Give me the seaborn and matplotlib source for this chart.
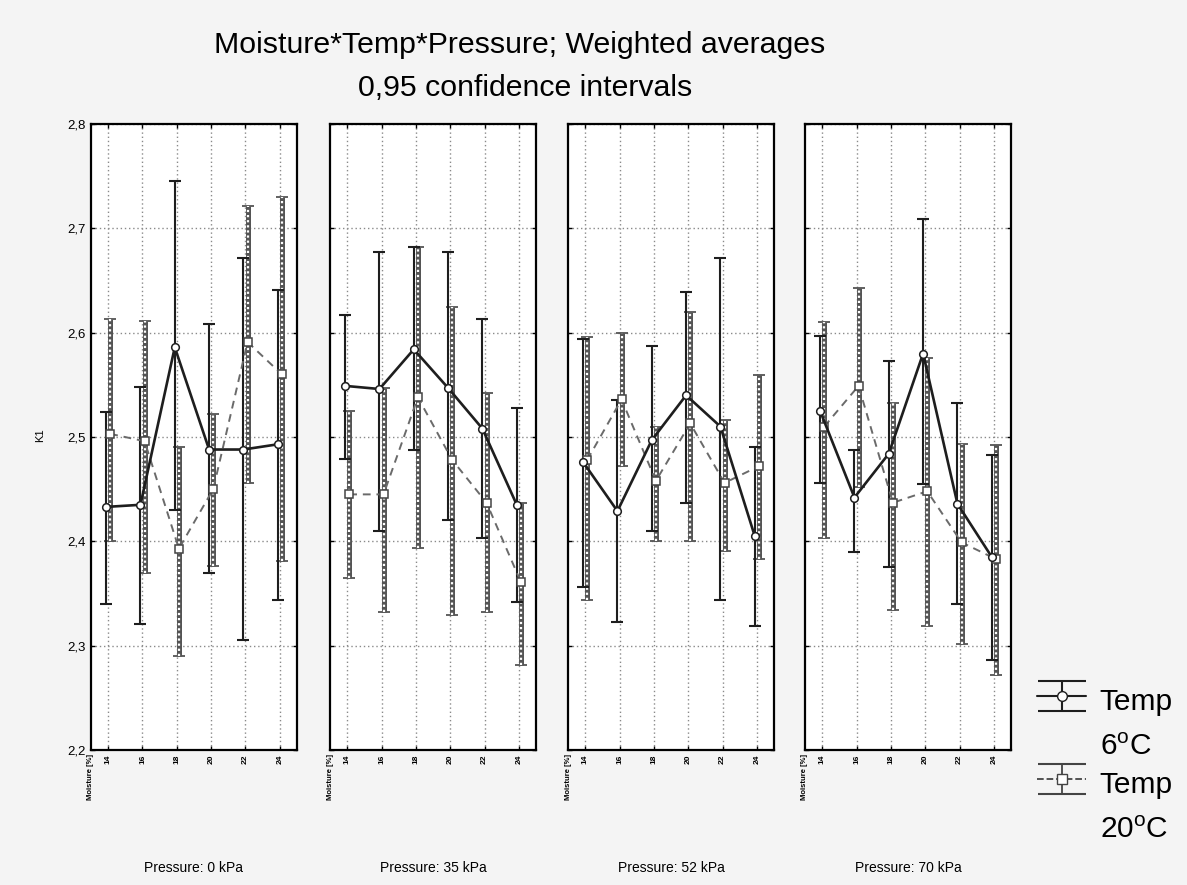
import numpy as np
import pandas as pd
import matplotlib
matplotlib.use("Agg")
import matplotlib.pyplot as plt
import seaborn as sns
from matplotlib.ticker import FixedLocator, FuncFormatter

# ---------------- data ----------------
moisture = [14, 16, 18, 20, 22, 24]
pressures = ["0 kPa", "35 kPa", "52 kPa", "70 kPa"]
y_ticks = [2.2, 2.3, 2.4, 2.5, 2.6, 2.7, 2.8]
temps = ["6$^{o}$C", "20$^{o}$C"]

mean6_p0 = [2.433, 2.435, 2.586, 2.488, 2.488, 2.493]
lo6_p0 = [2.340, 2.321, 2.430, 2.370, 2.305, 2.344]
hi6_p0 = [2.524, 2.548, 2.745, 2.608, 2.672, 2.641]
mean20_p0 = [2.503, 2.496, 2.393, 2.450, 2.591, 2.560]
lo20_p0 = [2.400, 2.370, 2.290, 2.376, 2.456, 2.381]
hi20_p0 = [2.613, 2.611, 2.490, 2.522, 2.721, 2.730]

mean6_p35 = [2.549, 2.546, 2.584, 2.547, 2.508, 2.435]
lo6_p35 = [2.479, 2.410, 2.488, 2.420, 2.403, 2.342]
hi6_p35 = [2.617, 2.677, 2.682, 2.677, 2.613, 2.528]
mean20_p35 = [2.445, 2.445, 2.538, 2.478, 2.437, 2.361]
lo20_p35 = [2.365, 2.332, 2.394, 2.329, 2.332, 2.281]
hi20_p35 = [2.525, 2.547, 2.682, 2.625, 2.542, 2.437]

mean6_p52 = [2.476, 2.429, 2.497, 2.540, 2.510, 2.405]
lo6_p52 = [2.356, 2.323, 2.410, 2.437, 2.344, 2.319]
hi6_p52 = [2.594, 2.535, 2.587, 2.639, 2.672, 2.490]
mean20_p52 = [2.478, 2.536, 2.458, 2.513, 2.456, 2.472]
lo20_p52 = [2.344, 2.472, 2.400, 2.400, 2.391, 2.383]
hi20_p52 = [2.596, 2.600, 2.510, 2.620, 2.516, 2.559]

mean6_p70 = [2.525, 2.442, 2.484, 2.580, 2.436, 2.385]
lo6_p70 = [2.456, 2.390, 2.375, 2.455, 2.340, 2.286]
hi6_p70 = [2.597, 2.488, 2.573, 2.709, 2.533, 2.483]
mean20_p70 = [2.510, 2.549, 2.437, 2.448, 2.399, 2.383]
lo20_p70 = [2.403, 2.452, 2.334, 2.319, 2.302, 2.272]
hi20_p70 = [2.610, 2.643, 2.533, 2.576, 2.493, 2.492]

series6 = [(mean6_p0, lo6_p0, hi6_p0), (mean6_p35, lo6_p35, hi6_p35),
           (mean6_p52, lo6_p52, hi6_p52), (mean6_p70, lo6_p70, hi6_p70)]
series20 = [(mean20_p0, lo20_p0, hi20_p0), (mean20_p35, lo20_p35, hi20_p35),
            (mean20_p52, lo20_p52, hi20_p52), (mean20_p70, lo20_p70, hi20_p70)]

# ---------------- style ----------------
sns.set_theme(style="white")
plt.rcParams['font.family'] = ['Liberation Sans', 'DejaVu Sans']
plt.rcParams['mathtext.default'] = 'regular'
plt.rcParams['text.color'] = 'black'
plt.rcParams['xtick.color'] = 'black'
plt.rcParams['ytick.color'] = 'black'

W, H = 1187, 885
BG = '#f4f4f4'
fig = plt.figure(figsize=(W / 100, H / 100), dpi=100, facecolor=BG)

lefts = [91, 330, 568, 805]
pw = 206
bottom_px, top_px = 750, 124
off6, off20 = -0.12, 0.12
c6, c20 = '#1e1e1e', '#555555'

fmt_comma = FuncFormatter(lambda v, p: f"{v:.1f}".replace('.', ','))

axes = []
for i, l in enumerate(lefts):
    ax = fig.add_axes([l / W, (H - bottom_px) / H, pw / W, (bottom_px - top_px) / H])
    ax.set_facecolor('white')
    axes.append(ax)
    x = np.array(moisture, dtype=float)
    m6, lo6, hi6 = (np.array(a) for a in series6[i])
    m20, lo20, hi20 = (np.array(a) for a in series20[i])

    # 20 C error bars (ladder look)
    ax.errorbar(x + off20, m20, yerr=[m20 - lo20, hi20 - m20], fmt='none',
                ecolor=c20, elinewidth=3.6, capsize=4, capthick=1.3, zorder=3)
    ax.vlines(x + off20, lo20, hi20, colors='white', linestyles=(0, (1, 1.3)),
              lw=1.6, zorder=3.1)
    # 6 C error bars
    ax.errorbar(x + off6, m6, yerr=[m6 - lo6, hi6 - m6], fmt='none',
                ecolor=c6, elinewidth=1.5, capsize=4, capthick=1.5, zorder=4)

    df6 = pd.DataFrame({'Moisture': x + off6, 'K1': m6})
    df20 = pd.DataFrame({'Moisture': x + off20, 'K1': m20})
    sns.lineplot(data=df20, x='Moisture', y='K1', ax=ax, color='#6a6a6a', lw=1.4,
                 linestyle=(0, (4, 3)), marker='s', markersize=5.5,
                 markerfacecolor='white', markeredgecolor='#444', markeredgewidth=1.1,
                 sort=False, zorder=5)
    sns.lineplot(data=df6, x='Moisture', y='K1', ax=ax, color=c6, lw=1.9,
                 marker='o', markersize=5.5, markerfacecolor='white',
                 markeredgecolor=c6, markeredgewidth=1.1, sort=False, zorder=6)

    ax.set_xlim(13, 25)
    ax.set_ylim(2.2, 2.8)
    ax.xaxis.set_major_locator(FixedLocator(moisture))
    ax.yaxis.set_major_locator(FixedLocator(y_ticks))
    ax.grid(True, linestyle=(0, (1, 2)), color='#8a8a8a', lw=1.0)
    ax.set_axisbelow(True)
    for s in ax.spines.values():
        s.set_color('black')
        s.set_linewidth(1.6)
    ax.tick_params(axis='both', direction='in', length=3, width=1, colors='black',
                   top=True, right=True, bottom=True, left=True)
    ax.set_xticklabels([str(v) for v in moisture], rotation=90, fontsize=6,
                       fontweight='bold')
    ax.tick_params(axis='x', pad=3)
    if i == 0:
        ax.yaxis.set_major_formatter(fmt_comma)
        ax.tick_params(axis='y', labelsize=9.5, pad=4)
    else:
        ax.set_yticklabels([])
    ax.set_xlabel('')
    ax.set_ylabel('')
    ax.text(13.0, -0.006, 'Moisture [%]', transform=ax.get_xaxis_transform(),
            rotation=90, ha='center', va='top', fontsize=5.5, fontweight='bold')
    ax.text(0.5, -0.188, f'Pressure: {pressures[i]}', transform=ax.transAxes,
            ha='center', va='center', fontsize=10)

# legend proxies
h6 = axes[-1].errorbar([np.nan], [np.nan], yerr=[0.1], fmt='-o', color=c6, lw=1.5,
                       mfc='white', mec=c6, ms=7, capsize=17, capthick=1.5)
h20 = axes[-1].errorbar([np.nan], [np.nan], yerr=[0.1], fmt='--s', color='#444', lw=1.3,
                        mfc='white', mec='#444', ms=7, capsize=17, capthick=1.5)
leg = fig.legend([h6, h20], ['Temp', 'Temp'], loc='upper left',
                 bbox_to_anchor=(1025 / W, 1 - 670 / H), frameon=False, fontsize=21.5,
                 handlelength=1.65, handleheight=1.5, labelspacing=1.55,
                 handletextpad=0.45, borderaxespad=0)
fig.canvas.draw()
for t, lab in zip(leg.get_texts(), temps):
    bb = t.get_window_extent()
    x0, y0 = fig.transFigure.inverted().transform((bb.x0, bb.y0))
    fig.text(x0, y0 - 45 / H, lab, fontsize=21.5, ha='left', va='bottom')

fig.text(40 / W, 1 - 435 / H, 'K1', rotation=90, fontsize=8, ha='center', va='center')
fig.text(520 / W, 1 - 45 / H, 'Moisture*Temp*Pressure; Weighted averages',
         fontsize=21.8, ha='center', va='center')
fig.text(525 / W, 1 - 88 / H, '0,95 confidence intervals', fontsize=21.8,
         ha='center', va='center')

fig.savefig('out.png', dpi=100, facecolor=BG)
